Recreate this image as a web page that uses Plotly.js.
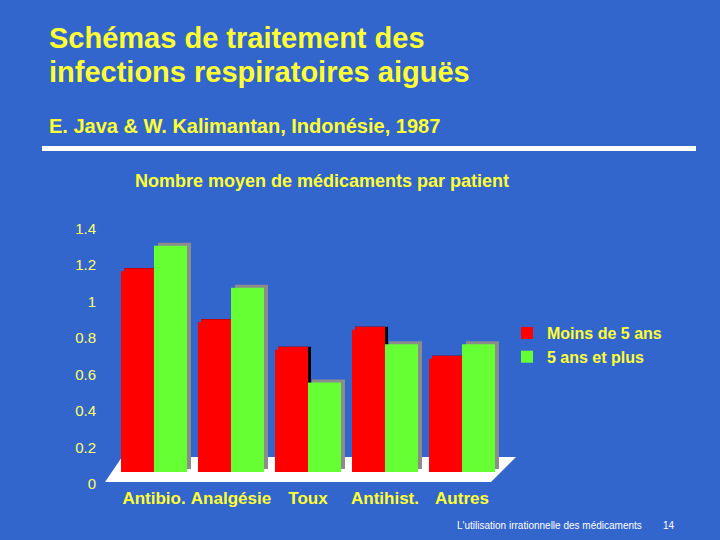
<!DOCTYPE html>
<html>
<head>
<meta charset="utf-8">
<script src="https://cdn.plot.ly/plotly-3.0.1.min.js"></script>
<style>html,body{margin:0;padding:0;background:#3366CC;}#chart{width:720px;height:540px;}</style>
</head>
<body>
<div id="chart"></div>
<script>
// ---- data ----
const categories = ["Antibio.", "Analgésie", "Toux", "Antihist.", "Autres"];
const under5 = [1.10, 0.82, 0.67, 0.78, 0.62];     // Moins de 5 ans
const over5  = [1.24, 1.01, 0.49, 0.70, 0.70];     // 5 ans et plus
const seriesNames = ["Moins de 5 ans", "5 ans et plus"];
const yTicks = [0, 0.2, 0.4, 0.6, 0.8, 1, 1.2, 1.4];
const yTickText = ["0", "0.2", "0.4", "0.6", "0.8", "1", "1.2", "1.4"];

// ---- geometry helpers (pixels -> paper) ----
const W = 720, H = 540;
const px = x => x / W;
const py = y => 1 - y / H;
const plotL = 100, plotR = 520, plotT = 200, plotB = 483;
const catPx = 77, firstCenter = 154;
const unit = 182.5;          // px per value unit
const zeroFace = 472;        // pixel of value 0 on bar plane
const depthX = 4, depthY = 3;
const bw = 33 / catPx;
const dx = depthX / catPx;

const xRange = [-(firstCenter - plotL) / catPx, (categories.length - 1) + (plotR - (firstCenter + (categories.length - 1) * catPx)) / catPx];
const faceRange = [-(plotB - zeroFace) / unit, (zeroFace - plotT) / unit];
const shadowZero = zeroFace - depthY;
const shadowRange = [-(plotB - shadowZero) / unit, (shadowZero - plotT) / unit];

const RED = "#FF0000", GREEN = "#66FF33", GRAY = "#8C8C8C", DARK = "#000000";
const YEL = "#FFFF33";

const traces = [
  // depth faces (drawn first, on shadow axis)
  {type: "bar", x: categories, y: under5, xaxis: "x", yaxis: "y", offset: -bw + dx * 0.75, width: bw,
   marker: {color: DARK}, showlegend: false, hoverinfo: "skip"},
  {type: "bar", x: categories, y: under5, xaxis: "x", yaxis: "y", offset: -bw + dx * 0.75, width: bw - dx * 0.75,
   marker: {color: RED}, showlegend: false, hoverinfo: "skip"},
  {type: "bar", x: categories, y: over5, xaxis: "x", yaxis: "y", offset: dx, width: bw,
   marker: {color: GRAY}, showlegend: false, hoverinfo: "skip"},
  // front faces
  {type: "bar", name: seriesNames[0], x: categories, y: under5, xaxis: "x", yaxis: "y2", offset: -bw, width: bw,
   marker: {color: RED}},
  {type: "bar", name: seriesNames[1], x: categories, y: over5, xaxis: "x", yaxis: "y2", offset: 0, width: bw,
   marker: {color: GREEN}}
];

const layout = {
  width: W, height: H,
  margin: {l: 0, r: 0, t: 0, b: 0},
  paper_bgcolor: "#3366CC",
  plot_bgcolor: "rgba(0,0,0,0)",
  barmode: "overlay",
  font: {family: "Liberation Sans, Arial, sans-serif", color: YEL},
  xaxis: {
    domain: [px(plotL), px(plotR)], range: xRange, type: "category",
    showgrid: false, zeroline: false, showline: false, ticks: "",
    tickfont: {size: 17, color: YEL, weight: "bold"}, ticklabelstandoff: 3
  },
  yaxis: {
    domain: [py(plotB), py(plotT)], range: shadowRange, anchor: "x",
    showgrid: false, zeroline: false, showline: false, showticklabels: false, ticks: ""
  },
  yaxis2: {
    domain: [py(plotB), py(plotT)], range: faceRange, anchor: "x", overlaying: "y", side: "left",
    showgrid: false, zeroline: false, showline: false, ticks: "",
    tickmode: "array", tickvals: yTicks, ticktext: yTickText,
    tickfont: {size: 15, color: "#FFFF66"}, ticklabelshift: 12, ticklabelstandoff: 3
  },
  legend: {
    x: px(507), y: py(316), xanchor: "left", yanchor: "top",
    bgcolor: "rgba(0,0,0,0)", font: {size: 16, color: YEL, weight: "bold"},
    tracegroupgap: 0, itemwidth: 30
  },
  shapes: [
    {type: "rect", xref: "paper", yref: "paper", x0: px(42), x1: px(696), y0: py(151), y1: py(146),
     fillcolor: "#FFFFFF", line: {width: 0}, layer: "below"},
    {type: "path", xref: "paper", yref: "paper", layer: "below", line: {width: 0}, fillcolor: "#FFFFFF",
     path: `M ${px(105)} ${py(482)} L ${px(491)} ${py(482)} L ${px(516)} ${py(457)} L ${px(122)} ${py(457)} Z`}
  ],
  annotations: [
    {text: "Schémas de traitement des", x: px(47), y: py(38), xref: "paper", yref: "paper", xanchor: "left", yanchor: "middle",
     showarrow: false, font: {size: 29, color: YEL, weight: "bold"}},
    {text: "infections respiratoires aiguës", x: px(47), y: py(72), xref: "paper", yref: "paper", xanchor: "left", yanchor: "middle",
     showarrow: false, font: {size: 29, color: YEL, weight: "bold"}},
    {text: "E. Java & W. Kalimantan, Indonésie, 1987", x: px(47), y: py(126), xref: "paper", yref: "paper", xanchor: "left", yanchor: "middle",
     showarrow: false, font: {size: 20, color: YEL, weight: "bold"}},
    {text: "Nombre moyen de médicaments par patient", x: px(133), y: py(181), xref: "paper", yref: "paper", xanchor: "left", yanchor: "middle",
     showarrow: false, font: {size: 18, color: YEL, weight: "bold"}},
    {text: "L'utilisation irrationnelle des médicaments", x: px(455), y: py(525), xref: "paper", yref: "paper", xanchor: "left", yanchor: "middle",
     showarrow: false, font: {size: 10, color: "#FFFFFF"}},
    {text: "14", x: px(661), y: py(525), xref: "paper", yref: "paper", xanchor: "left", yanchor: "middle",
     showarrow: false, font: {size: 10, color: "#FFFFFF"}}
  ]
};

Plotly.newPlot("chart", traces, layout, {displayModeBar: false, staticPlot: true});
</script>
</body>
</html>
